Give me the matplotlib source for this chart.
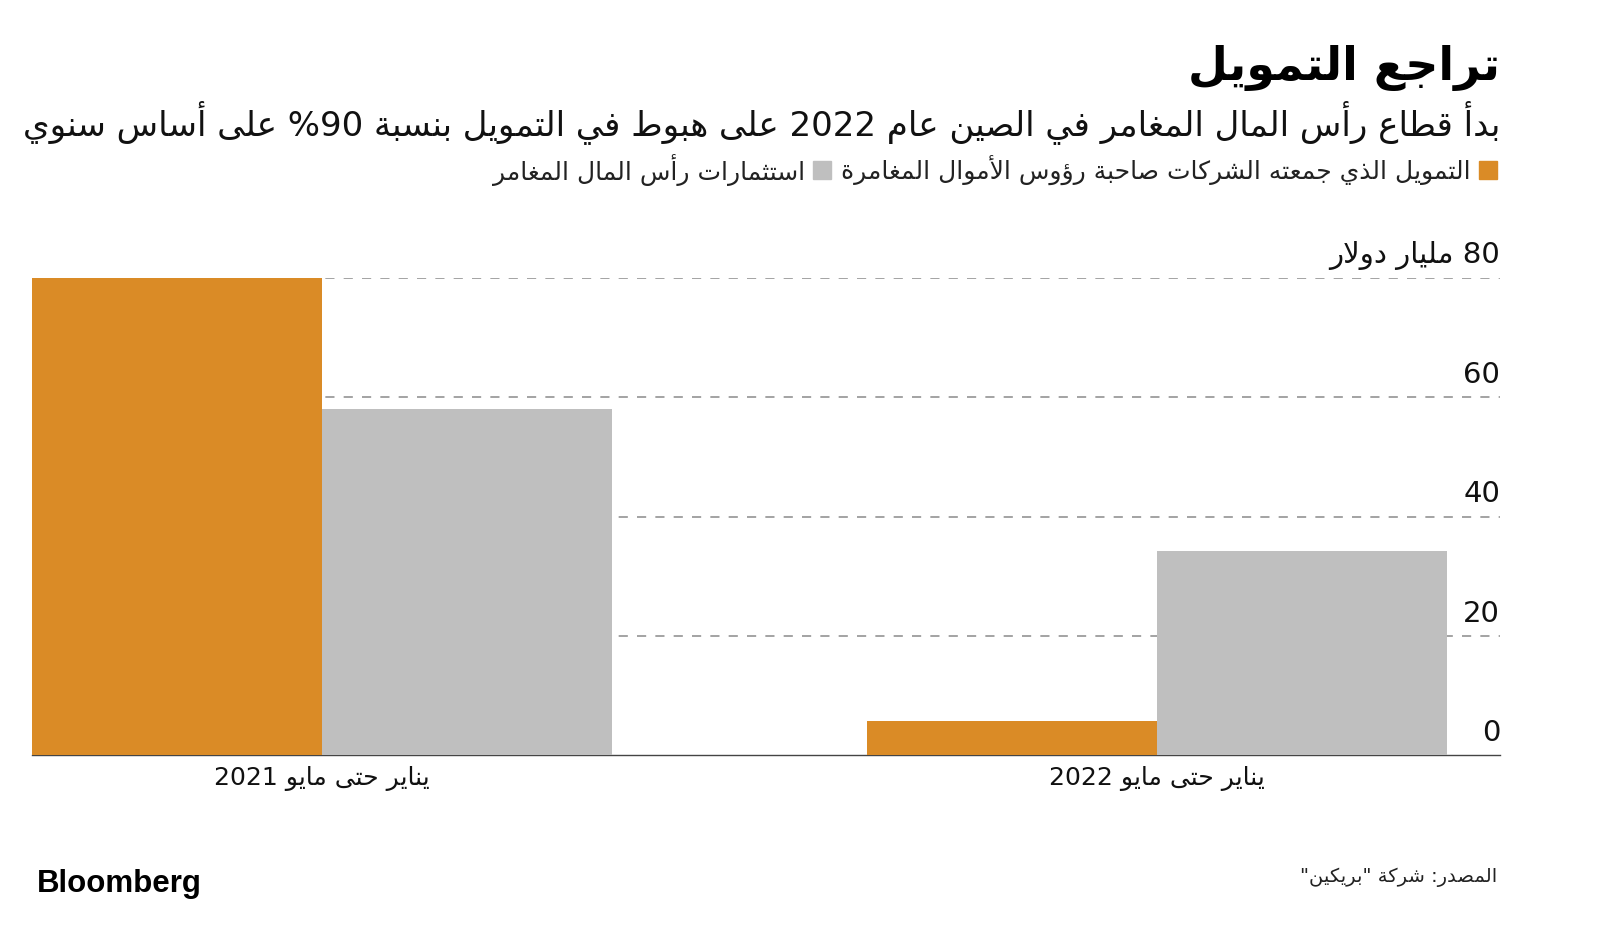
import re
import matplotlib
matplotlib.use("Agg")
import matplotlib.pyplot as plt
import matplotlib.transforms as mtransforms

plt.rcParams['font.family'] = ['DejaVu Sans']

# ---- data ----
categories = ["يناير حتى مايو 2021", "يناير حتى مايو 2022"]
raised_by_vc_firms = [80.0, 5.7]      # orange
vc_investments = [58.0, 34.3]         # grey
y_ticks = [0, 20, 40, 60, 80]
y_unit = "مليار دولار"

title = "تراجع التمويل"
subtitle = "بدأ قطاع رأس المال المغامر في الصين عام 2022 على هبوط في التمويل بنسبة 90% على أساس سنوي"
legend_labels = ["التمويل الذي جمعته الشركات صاحبة رؤوس الأموال المغامرة",
                 "استثمارات رأس المال المغامر"]
source = 'المصدر: شركة "بريكين"'

ORANGE = "#DA8B26"
GREY = "#BFBFBF"

# ---- minimal arabic shaping (matplotlib has no text shaping) ----
_letters = list(range(0x621, 0x63B)) + list(range(0x641, 0x64B))
_nforms = [1, 2, 2, 2, 2, 4, 2, 4, 2, 4, 4, 4, 4, 4, 2, 2, 2, 2, 4, 4, 4, 4, 4, 4, 4, 4,
           4, 4, 4, 4, 4, 4, 4, 2, 2, 4]
FORMS = {}
_code = 0xFE80
for _c, _n in zip(_letters, _nforms):
    FORMS[chr(_c)] = [chr(_code + k) for k in range(_n)]
    _code += _n
LAMALEF = {'\u0622': 0xFEF5, '\u0623': 0xFEF7, '\u0625': 0xFEF9, '\u0627': 0xFEFB}


def shape(s):
    units = []
    i = 0
    while i < len(s):
        c = s[i]
        if c == '\u0644' and i + 1 < len(s) and s[i + 1] in LAMALEF:
            b = LAMALEF[s[i + 1]]
            units.append([chr(b), chr(b + 1)])
            i += 2
        else:
            units.append(FORMS.get(c, c))
            i += 1
    out = []
    for i, u in enumerate(units):
        if isinstance(u, str):
            out.append(u)
            continue
        prev = i > 0 and isinstance(units[i - 1], list) and len(units[i - 1]) == 4
        nxt = (len(u) == 4 and i + 1 < len(units) and isinstance(units[i + 1], list)
               and len(units[i + 1]) >= 2)
        if len(u) == 4:
            idx = 3 if (prev and nxt) else 1 if prev else 2 if nxt else 0
        elif len(u) == 2:
            idx = 1 if prev else 0
        else:
            idx = 0
        out.append(u[idx])
    return ''.join(out)


def ar(s):
    # reverse to visual order, keeping digit/latin runs left-to-right
    tokens = re.findall(r'[0-9A-Za-z]+|.', shape(s))
    return ''.join(reversed(tokens))


# ---- figure ----
fig = plt.figure(figsize=(16, 9.3), dpi=100)
ax = fig.add_axes([0.02, 0.188, 0.9175, 0.513])

w = 0.347
x = range(len(categories))
ax.bar([i - w / 2 for i in x], raised_by_vc_firms, width=w, color=ORANGE, zorder=3)
ax.bar([i + w / 2 for i in x], vc_investments, width=w, color=GREY, zorder=3)

ax.set_xlim(-w, 1.411)
ax.set_ylim(0, 80)

for v in y_ticks[1:]:
    ax.axhline(v, color="#8a8a8a", lw=1.1, dashes=(6, 6), zorder=1)

# y labels sit on the right, above the gridlines
trans = mtransforms.blended_transform_factory(ax.transAxes, ax.transData)
for v in y_ticks:
    lab = str(v) if v != 80 else ar(f"{v} {y_unit}")
    ax.annotate(lab, xy=(1.0, v), xycoords=trans, xytext=(0, 6),
                textcoords="offset points", ha="right", va="bottom",
                fontsize=21, color="#111111")

ax.set_yticks([])
ax.set_xticks(list(x), [ar(c) for c in categories], fontsize=18, color="#111111")
ax.tick_params(axis="x", length=0, pad=8)
for sp in ["top", "left", "right"]:
    ax.spines[sp].set_visible(False)
ax.spines["bottom"].set_color("#444444")
ax.spines["bottom"].set_linewidth(1)

# ---- titles ----
fig.text(1500 / 1600, 1 - 68 / 930, ar(title), ha="right", va="center",
         fontsize=33, fontweight="bold", color="black")
fig.text(1500 / 1600, 1 - 122 / 930, ar(subtitle), ha="right", va="center",
         fontsize=24.5, color="#111111")

# ---- legend ----
fig.canvas.draw()
renderer = fig.canvas.get_renderer()
ly = 1 - 170 / 930
sq = 18
xr = 1497
for lab, col in zip(legend_labels, [ORANGE, GREY]):
    fig.patches.append(plt.Rectangle(((xr - sq) / 1600, ly - sq / 2 / 930), sq / 1600, sq / 930,
                                     transform=fig.transFigure, color=col))
    t = fig.text((xr - sq - 8) / 1600, ly, ar(lab), ha="right", va="center",
                 fontsize=18, color="#222222")
    bb = t.get_window_extent(renderer)
    xr = bb.x0 - 10

# ---- footer ----
fig.text(1497 / 1600, 1 - 877 / 930, ar(source), ha="right", va="center",
         fontsize=14, color="#222222")
fig.text(37 / 1600, 1 - 884 / 930, "Bloomberg", ha="left", va="center",
         fontsize=22.5, fontweight="bold", family="Liberation Sans", color="black")

fig.savefig("out.png", dpi=100, facecolor="white")
